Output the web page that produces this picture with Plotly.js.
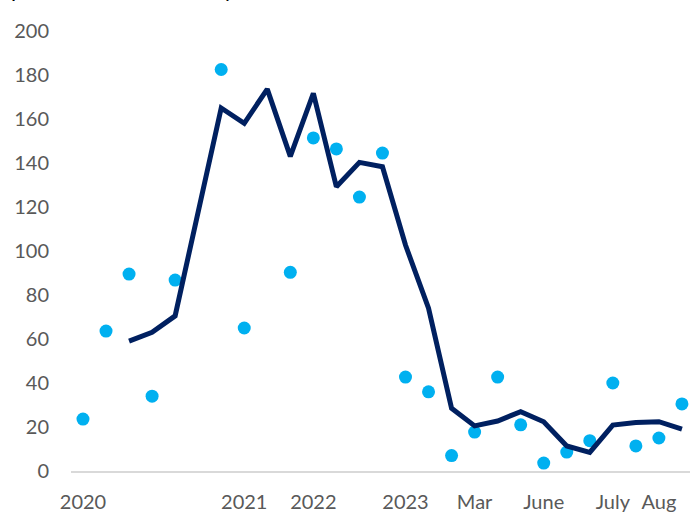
<!DOCTYPE html>
<html>
<head>
<meta charset="utf-8">
<script src="https://cdn.plot.ly/plotly-3.0.1.min.js"></script>
<style>html,body{margin:0;padding:0;background:#fff;}#chart{width:690px;height:512px;}</style>
</head>
<body>
<div id="chart"></div>
<script>
// Position index of each observation along the x axis
var positions = [0,1,2,3,4,5,6,7,8,9,10,11,12,13,14,15,16,17,18,19,20,21,22,23,24,25,26];
// Monthly values (dots); null where the value is off the chart
var monthly = [23.6,63.6,89.5,34,86.8,null,182.5,65,null,90.3,151.4,146.4,124.5,144.5,42.7,36,7,17.7,42.7,21,3.6,8.6,13.8,40,11.4,15,30.5];
// Smoothed values (line)
var smoothed = [null,null,59,63,70.5,118,165,158,173.6,143,171.7,129.2,140.3,138.3,102.7,74,28.5,20.5,22.7,27,22.4,11.4,8.5,20.9,22,22.4,19];
// X tick labels
var tickPos = [0,7,10,14,17,20,23,25];
var tickText = ["2020","2021","2022","2023","Mar","June","July","Aug"];
var yTicks = [0,20,40,60,80,100,120,140,160,180,200];

var traces = [
  {x: positions, y: monthly, type: 'scatter', mode: 'markers',
   marker: {color: '#00B0F0', size: 13}, showlegend: false, hoverinfo: 'skip'},
  {x: positions, y: smoothed, type: 'scatter', mode: 'lines',
   line: {color: '#002060', width: 5}, showlegend: false, connectgaps: false, hoverinfo: 'skip'}
];

var layout = {
  width: 690, height: 512,
  margin: {l: 71, r: 0, t: 31, b: 41},
  paper_bgcolor: '#ffffff', plot_bgcolor: '#ffffff',
  font: {family: 'Lato, "Open Sans", sans-serif', size: 20, color: '#595959'},
  xaxis: {
    range: [-0.52, 26.35], tickvals: tickPos, ticktext: tickText,
    showgrid: false, zeroline: false, showline: true, linecolor: '#D9D9D9', linewidth: 2,
    ticks: '', ticklabelstandoff: 12, fixedrange: true
  },
  yaxis: {
    range: [0, 200], tickvals: yTicks, showgrid: false, zeroline: false, showline: false,
    ticks: '', ticklabelstandoff: 21, fixedrange: true
  },
  annotations: [{
    xref: 'paper', yref: 'paper', x: (9 - 71) / 619, y: 1 + (31 - 4) / 440,
    xanchor: 'left', yanchor: 'bottom',
    text: 'permits issued monthly', showarrow: false,
    font: {family: 'Lato, sans-serif', size: 22, color: '#000000'}
  }]
};

Plotly.newPlot('chart', traces, layout, {displayModeBar: false, staticPlot: true});
</script>
</body>
</html>
